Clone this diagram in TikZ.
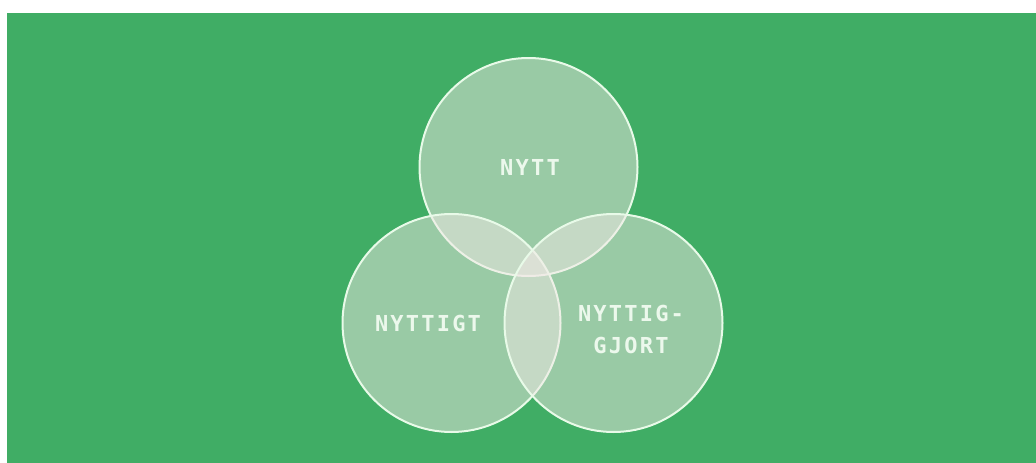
\documentclass[tikz,border=0pt]{standalone}
\usepackage{fontspec}
\newfontfamily\labelfont[LetterSpace=10]{DejaVu Sans Mono Bold}
\definecolor{bggreen}{RGB}{64,173,101}
\definecolor{circfill}{RGB}{242,232,230}
\definecolor{circline}{RGB}{232,250,232}
\definecolor{txtcol}{RGB}{236,248,236}
\begin{document}
\begin{tikzpicture}[x=1pt,y=-1pt,
  venn/.style={circle, minimum size=218pt, inner sep=0pt, fill=circfill, fill opacity=0.5, draw=circline, draw opacity=1, line width=2pt},
  lbl/.style={text=txtcol, font=\labelfont\fontsize{22}{32}\selectfont, align=center, text opacity=1}]
  \useasboundingbox (0,0) rectangle (1036,463);
  \fill[bggreen] (7,13) rectangle (1036,463);
  \node[venn] (top) at (528.5,167) {};
  \node[venn] (left) at (451.5,323) {};
  \node[venn] (right) at (613.5,323) {};
  \node[lbl] (t1) at (530,167) {NYTT};
  \node[lbl] (t2) at (428,323) {NYTTIGT};
  \node[lbl] (t3) at (631,329) {NYTTIG-\\GJORT};
\end{tikzpicture}
\end{document}
